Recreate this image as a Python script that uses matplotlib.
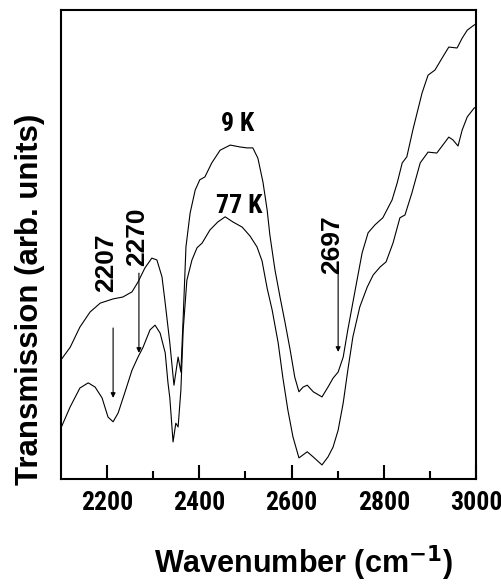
import matplotlib
matplotlib.use('Agg')
import matplotlib.pyplot as plt

# IR transmission spectra at two temperatures (arbitrary units)
wn_9k = [2100, 2120, 2141, 2163, 2185, 2213, 2234, 2254, 2267, 2282, 2297, 2308,
         2319, 2326, 2336, 2345, 2352, 2354, 2360, 2365, 2371, 2380, 2391, 2401,
         2412, 2427, 2445, 2467, 2488, 2503, 2516, 2527, 2538, 2547, 2553, 2564,
         2575, 2586, 2597, 2607, 2616, 2625, 2634, 2647, 2666, 2679, 2690, 2701,
         2712, 2722, 2738, 2753, 2766, 2781, 2798, 2818, 2829, 2840, 2850, 2863,
         2883, 2896, 2911, 2928, 2941, 2959, 2970, 2981, 2996, 3000]
tr_9k = [25.4, 28.1, 32.4, 35.6, 37.5, 38.4, 38.8, 39.9, 42.0, 45.0, 47.1, 46.7,
         43.1, 37.5, 29.0, 20.0, 24.7, 26.0, 22.8, 34.5, 49.5, 56.7, 61.6, 63.8,
         64.4, 67.4, 70.1, 71.2, 70.8, 70.6, 70.6, 68.4, 63.3, 57.4, 52.0, 44.6,
         38.8, 33.3, 27.5, 21.7, 18.6, 19.6, 20.0, 18.6, 17.5, 19.6, 21.5, 22.8,
         26.0, 31.8, 40.3, 48.2, 52.5, 54.2, 55.7, 59.5, 63.1, 67.4, 68.7, 74.4,
         82.3, 86.1, 87.2, 90.0, 92.1, 91.9, 94.0, 95.7, 96.8, 97.0]

wn_77k = [2100, 2120, 2141, 2159, 2174, 2189, 2202, 2213, 2224, 2239, 2254, 2267,
          2278, 2293, 2304, 2315, 2326, 2332, 2336, 2343, 2349, 2354, 2360, 2365,
          2373, 2384, 2395, 2406, 2423, 2440, 2456, 2473, 2493, 2510, 2525, 2536,
          2547, 2558, 2571, 2581, 2592, 2603, 2616, 2634, 2647, 2666, 2679, 2690,
          2701, 2712, 2722, 2733, 2748, 2764, 2777, 2792, 2805, 2820, 2835, 2846,
          2861, 2879, 2896, 2915, 2928, 2941, 2950, 2961, 2970, 2981, 2996, 3000]
tr_77k = [10.9, 15.4, 19.4, 20.5, 19.6, 17.3, 13.2, 12.2, 14.1, 18.6, 23.2, 26.0,
          28.1, 31.8, 32.8, 31.1, 26.9, 20.5, 17.3, 7.9, 11.9, 11.1, 19.0, 31.8,
          42.4, 46.7, 49.3, 50.3, 53.1, 54.8, 55.9, 54.8, 53.7, 51.8, 49.5, 46.5,
          40.7, 36.0, 29.0, 21.7, 14.7, 9.0, 4.5, 5.8, 4.7, 3.0, 4.7, 6.8,
          10.4, 16.2, 23.2, 30.3, 36.7, 40.9, 43.5, 45.2, 46.3, 50.3, 55.7, 56.3,
          61.0, 67.4, 69.7, 69.5, 71.2, 72.9, 72.3, 71.0, 74.4, 77.2, 79.1, 79.3]

# marked bands: label, arrow x, arrow start/end, label position
band_labels = ['2207', '2270', '2697']
band_x = [2213, 2269, 2701]
arrow_top = [32.2, 43.9, 45.0]
arrow_tip = [17.3, 26.9, 27.1]
label_x = [2197, 2265, 2688]
label_y = [46.1, 51.6, 49.9]

temp_labels = ['9 K', '77 K']
temp_x = [2482, 2486]
temp_y = [75.6, 58.2]

narrow = dict(family=['Roboto Condensed', 'Liberation Sans'], weight='bold')

fig = plt.figure(figsize=(5.02, 5.84), dpi=100)
ax = fig.add_axes([61 / 502, 105 / 584, 415 / 502, 469 / 584])

ax.plot(wn_9k, tr_9k, color='black', lw=0.8, solid_joinstyle='round')
ax.plot(wn_77k, tr_77k, color='black', lw=0.8, solid_joinstyle='round')

for lab, x, y0, y1, lx, ly in zip(band_labels, band_x, arrow_top, arrow_tip, label_x, label_y):
    ax.annotate('', xy=(x, y1), xytext=(x, y0),
                arrowprops=dict(arrowstyle='-|>', color='black', lw=0.8,
                                mutation_scale=7, shrinkA=0, shrinkB=0))
    ax.text(lx, ly, lab, rotation=90, ha='center', va='center',
            family='Liberation Sans', weight='bold', fontsize=19)

for lab, x, y in zip(temp_labels, temp_x, temp_y):
    ax.text(x, y, lab, ha='center', va='center', fontsize=18.5, **narrow)

ax.set_xlim(2100, 3000)
ax.set_ylim(0, 100)
ax.set_xticks([2200, 2400, 2600, 2800, 3000])
ax.set_xticks([2300, 2500, 2700, 2900], minor=True)
ax.set_yticks([])
ax.tick_params(axis='x', which='major', direction='in', length=10, width=1.5, pad=9)
ax.tick_params(axis='x', which='minor', direction='in', length=6, width=1.5)
for lbl in ax.get_xticklabels():
    lbl.set_fontproperties(dict(size=18.5, **narrow))
for sp in ax.spines.values():
    sp.set_linewidth(1.5)

fig.text(30 / 502, 1 - 299 / 584, 'Transmission (arb. units)', rotation=90,
         ha='center', va='center', family='Liberation Sans', weight='bold', fontsize=22.5)
fig.text(303 / 502, 1 - 563 / 584, 'Wavenumber (cm$^{\\mathbf{-1}}$)',
         ha='center', va='center', family='Liberation Sans', weight='bold', fontsize=22)

fig.savefig('out.png', dpi=100)
